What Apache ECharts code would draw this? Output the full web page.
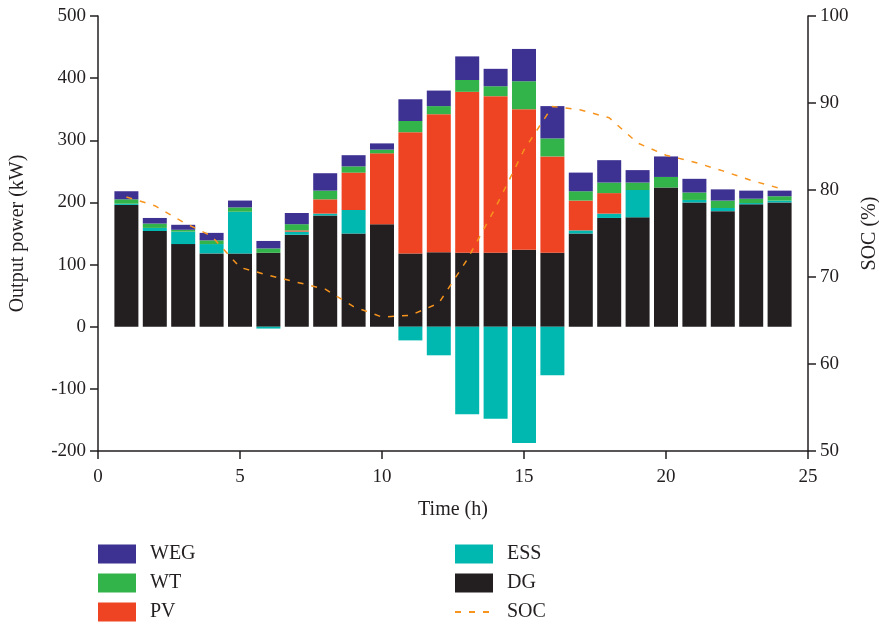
<!DOCTYPE html>
<html>
<head>
<meta charset="utf-8">
<script src="https://cdn.jsdelivr.net/npm/echarts@6/dist/echarts.min.js"></script>
<style>
  html, body { margin: 0; padding: 0; background: #fff; }
  #chart { width: 879px; height: 625px; }
</style>
</head>
<body>
<div id="chart"></div>
<script>
// x axis slots (h); labels shown every 5 h
var timeSlots = ["0", "1", "2", "3", "4", "5", "6", "7", "8", "9", "10", "11", "12",
                 "13", "14", "15", "16", "17", "18", "19", "20", "21", "22", "23", "24", "25"];
// output power (kW) for hours 1..24
var dg  = [196, 154, 133, 118, 118, 119, 148, 179, 150, 165, 118, 120, 119, 119, 124, 119, 150, 175, 176, 224, 200, 186, 197, 200];
var ess = [2, 5, 20, 15, 67, -3, 5, 3, 38, 0, -22, -46, -141, -148, -187, -78, 5, 7, 44, 0, 4, 5, 2, 3];
var pv  = [0, 0, 0, 0, 0, 0, 2, 23, 60, 114, 195, 222, 259, 252, 226, 155, 48, 33, 0, 0, 0, 0, 0, 0];
var wt  = [7, 7, 3, 6, 7, 7, 10, 14, 10, 6, 18, 13, 19, 16, 45, 29, 15, 17, 12, 17, 12, 12, 7, 7];
var weg = [13, 9, 8, 12, 11, 12, 18, 28, 18, 10, 35, 25, 38, 28, 52, 52, 30, 36, 20, 33, 22, 18, 13, 9];
// state of charge (%) for hours 1..24
var soc = [79.2, 78.2, 76.3, 74.7, 71.1, 70.2, 69.4, 68.6, 66.6, 65.4, 65.6, 67.0, 72.0, 78.0, 84.6, 89.6, 89.2, 88.3, 85.4, 84.0, 83.2, 82.2, 81.1, 80.2];

var font = "'Liberation Serif', 'DejaVu Serif', serif";
var axisColor = "#231F20";

// hour 0 and hour 25 have no data
function pad(vals) {
  return [null].concat(vals, [null]);
}

function barSeries(name, vals, color) {
  return {
    name: name,
    type: "bar",
    stack: "power",
    barWidth: 24,
    data: pad(vals),
    itemStyle: { color: color },
    emphasis: { disabled: true }
  };
}

var axisCommon = {
  axisLine: { show: true, onZero: false, lineStyle: { color: axisColor, width: 1.5 } },
  axisTick: { show: true, length: 8, lineStyle: { color: axisColor, width: 1.5 } },
  axisLabel: { color: axisColor, fontFamily: font, fontSize: 19 },
  splitLine: { show: false },
  nameTextStyle: { color: axisColor, fontFamily: font, fontSize: 20 }
};

var legendText = { color: axisColor, fontFamily: font, fontSize: 20, padding: [0, 0, 0, 9] };

var chart = echarts.init(document.getElementById("chart"));
chart.setOption({
  animation: false,
  grid: { left: 98, right: 71, top: 16, bottom: 174, outerBoundsMode: "none", containLabel: false },
  legend: [
    {
      data: ["WEG", "WT", "PV"],
      orient: "vertical",
      left: 98, top: 544, padding: 0,
      icon: "rect",
      itemWidth: 38, itemHeight: 19, itemGap: 9,
      textStyle: legendText
    },
    {
      data: [{ name: "ESS", icon: "rect" }, { name: "DG", icon: "rect" }, { name: "SOC", itemStyle: { opacity: 0 } }],
      orient: "vertical",
      left: 454, top: 544, padding: 0,
      itemWidth: 38, itemHeight: 19, itemGap: 9,
      textStyle: legendText
    }
  ],
  xAxis: Object.assign({}, axisCommon, {
    type: "category",
    data: timeSlots,
    boundaryGap: false,
    name: "Time (h)",
    nameLocation: "middle",
    nameGap: 49,
    axisTick: Object.assign({}, axisCommon.axisTick, { interval: 4 }),
    axisLabel: Object.assign({}, axisCommon.axisLabel, { interval: 4, margin: 17 })
  }),
  yAxis: [
    Object.assign({}, axisCommon, {
      type: "value",
      min: -200, max: 500, interval: 100,
      name: "Output power (kW)",
      nameLocation: "middle",
      nameRotate: 90,
      nameGap: 70,
      axisLabel: Object.assign({}, axisCommon.axisLabel, { margin: 12 })
    }),
    Object.assign({}, axisCommon, {
      type: "value",
      position: "right",
      min: 50, max: 100, interval: 10,
      name: "SOC (%)",
      nameLocation: "middle",
      nameRotate: 90,
      nameGap: 50,
      axisLabel: Object.assign({}, axisCommon.axisLabel, { margin: 12 })
    })
  ],
  series: [
    barSeries("DG", dg, "#231F20"),
    barSeries("ESS", ess, "#00B8B0"),
    barSeries("PV", pv, "#EF4423"),
    barSeries("WT", wt, "#33B44A"),
    barSeries("WEG", weg, "#3D3192"),
    {
      name: "SOC",
      type: "line",
      yAxisIndex: 1,
      data: pad(soc),
      symbol: "none",
      z: 5,
      lineStyle: { color: "#F7941D", width: 1.5, type: [6, 8] },
      itemStyle: { color: "#F7941D" },
      emphasis: { disabled: true }
    }
  ]
});
</script>
</body>
</html>
